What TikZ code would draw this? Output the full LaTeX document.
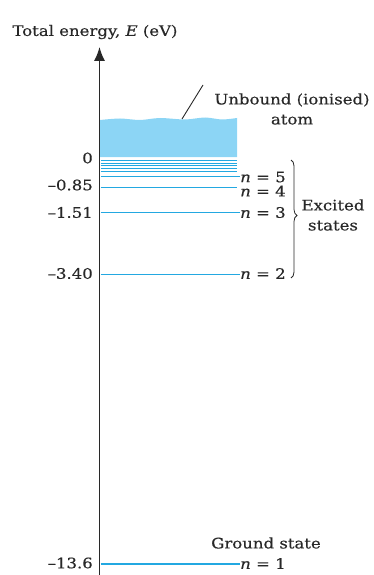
\documentclass[tikz,border=0pt]{standalone}
\usepackage{fontspec}
\setmainfont{DejaVu Serif}[FakeStretch=1.14,FakeBold=0.4]
\usetikzlibrary{arrows.meta,decorations.pathreplacing}
\definecolor{lvl}{RGB}{35,168,225}
\definecolor{ion}{RGB}{140,213,245}
\definecolor{ink}{RGB}{40,40,40}
\begin{document}
\begin{tikzpicture}[x=1pt,y=-1pt,
  lbl/.style={font=\fontsize{14.5}{20}\selectfont, inner sep=0pt, text=ink},
  level/.style={lvl, line width=1.1pt},
  thinlevel/.style={lvl, line width=0.75pt},
  axisline/.style={line width=1.3pt, ink, -{Latex[length=14pt,width=11pt]}}]
\useasboundingbox (0,0) rectangle (373,575);
% title
\node[lbl] (title) at (95,32) {Total energy, \textit{E} (eV)};
% ionised band
\fill[ion] (100,157) -- plot[smooth] coordinates {(100,120) (120,118.5) (140,120) (160,118) (185,119.5) (205,117.5) (222,119.5) (237,118)} -- (237,157) -- cycle;
\coordinate (lead) at (182,119);
% levels
\foreach \y in {160.5,163,165.5,168,171}{
  \draw[thinlevel] (100.5,\y) -- (237,\y);
}
\node[lbl, anchor=west] (n5) at (240,177) {\textit{n} = 5};
\node[lbl, anchor=west] (n4) at (240,191) {\textit{n} = 4};
\node[lbl, anchor=west] (n3) at (240,212.5) {\textit{n} = 3};
\node[lbl, anchor=west] (n2) at (240,273.5) {\textit{n} = 2};
\node[lbl, anchor=west] (n1) at (240,563.5) {\textit{n} = 1};
\coordinate (a5) at (100.5,176.7);
\coordinate (a4) at (100.5,187.7);
\coordinate (a3) at (100.5,212.7);
\coordinate (a2) at (100.5,274.3);
\coordinate (a1) at (100.5,564);
\draw[level] (a5) -- (a5 -| n5.west);
\draw[level] (a4) -- (237,187.7);
\draw[level] (a3) -- (a3 -| n3.west);
\draw[level] (a2) -- (a2 -| n2.west);
\draw[level] (a1) -- (a1 -| n1.west);
% energy values
\node[lbl, anchor=east] (e0) at (93,158) {0};
\node[lbl, anchor=east] (e4) at (93,185) {–0.85};
\node[lbl, anchor=east] (e3) at (93,212.5) {–1.51};
\node[lbl, anchor=east] (e2) at (93,273.5) {–3.40};
\node[lbl, anchor=east] (e1) at (93,563) {–13.6};
% axis
\coordinate (abot) at (99.5,575);
\coordinate (atop) at (99.5,47);
\draw[axisline] (abot) -- (atop);
% labels
\node[lbl, align=center] (unb) at (292,109) {Unbound (ionised)\\atom};
\coordinate (leadend) at (203,85);
\draw[line width=0.9pt, ink] (lead) -- (leadend);
\node[lbl, align=center] (exc) at (333,215) {Excited\\states};
\coordinate (bt) at (291,160);
\coordinate (bb) at (291,278);
\draw[line width=0.8pt, ink, decorate, decoration={brace, amplitude=6pt, aspect=0.47}] (bt) -- (bb);
\node[lbl] (gs) at (266,543) {Ground state};
\end{tikzpicture}
\end{document}
